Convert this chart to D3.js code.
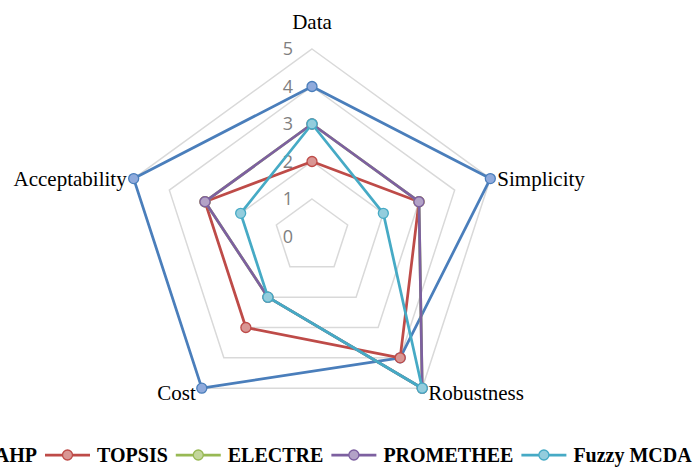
<!DOCTYPE html>
<html>
<head>
<meta charset="utf-8">
<script src="https://cdn.jsdelivr.net/npm/d3@7"></script>
<style>
  html, body { margin: 0; padding: 0; background: #fff; overflow: hidden; }
  svg { display: block; }
</style>
</head>
<body>
<svg id="chart" width="698" height="467"></svg>
<script>
// Criteria (spokes, clockwise from top)
const criteria = ["Data", "Simplicity", "Robustness", "Cost", "Acceptability"];
// Methods and their scores per criterion
const methods = ["AHP", "TOPSIS", "ELECTRE", "PROMETHEE", "Fuzzy MCDA"];
const ahp = [4, 5, 4, 5, 5];
const topsis = [2, 3, 4, 3, 3];
const electre = [3, 3, 5, 2, 3];
const promethee = [3, 3, 5, 2, 3];
const fuzzyMcda = [3, 2, 5, 2, 2];
const tickValues = [0, 1, 2, 3, 4, 5];

const seriesValues = [ahp, topsis, electre, promethee, fuzzyMcda];
const lineColors = ["#4a7ebb", "#be4b48", "#98b954", "#7d60a0", "#46aac5"];
const fillColors = ["#8faadc", "#d99694", "#c3d69b", "#b3a2c7", "#93cddd"];

const svg = d3.select("#chart");
const cx = 312, cy = 236.5;
const r = d3.scaleLinear().domain([0, 5]).range([0, 187.5]);
const angle = d3.scaleLinear().domain([0, criteria.length]).range([0, 2 * Math.PI]);

function pt(i, v) {
  const a = angle(i);
  return [cx + Math.sin(a) * r(v), cy - Math.cos(a) * r(v)];
}

// Grid pentagons
const grid = svg.append("g");
tickValues.filter(t => t > 0).forEach(t => {
  grid.append("path")
    .attr("d", d3.line()(criteria.map((c, i) => pt(i, t))) + "Z")
    .attr("fill", "none")
    .attr("stroke", "#d9d9d9")
    .attr("stroke-width", 1.5);
});

// Tick labels along the top spoke
svg.append("g").selectAll("text").data(tickValues).join("text")
  .attr("x", cx - 19)
  .attr("y", d => cy - r(d))
  .attr("dy", "0.36em")
  .attr("text-anchor", "end")
  .attr("font-family", "'Open Sans', 'Liberation Sans', sans-serif")
  .attr("font-size", 18)
  .attr("fill", "#7f7f7f")
  .text(d => d);

// Criterion labels
const labelFont = "'Liberation Serif', 'DejaVu Serif', serif";
const labelPos = [
  { dx: 0, dy: -27, anchor: "middle" },
  { dx: 7, dy: 0, anchor: "start" },
  { dx: 6, dy: 4, anchor: "start" },
  { dx: -6, dy: 4, anchor: "end" },
  { dx: -7, dy: 0, anchor: "end" }
];
svg.append("g").selectAll("text").data(criteria).join("text")
  .attr("x", (d, i) => pt(i, 5)[0] + labelPos[i].dx)
  .attr("y", (d, i) => pt(i, 5)[1] + labelPos[i].dy)
  .attr("dy", "0.35em")
  .attr("text-anchor", (d, i) => labelPos[i].anchor)
  .attr("font-family", labelFont)
  .attr("font-size", 21)
  .attr("fill", "#000")
  .text(d => d);

// Series polygons with markers
const series = svg.append("g");
seriesValues.forEach((vals, s) => {
  const pts = vals.map((v, i) => pt(i, v));
  series.append("path")
    .attr("d", d3.line()(pts) + "Z")
    .attr("fill", "none")
    .attr("stroke", lineColors[s])
    .attr("stroke-width", 2.75)
    .attr("stroke-linejoin", "round");
  series.append("g").selectAll("circle").data(pts).join("circle")
    .attr("cx", d => d[0])
    .attr("cy", d => d[1])
    .attr("r", 5)
    .attr("fill", fillColors[s])
    .attr("stroke", lineColors[s])
    .attr("stroke-width", 1.3);
});

// Legend (runs off the left edge like the original layout)
const legend = svg.append("g");
const ly = 455;
const items = methods.map((m, s) => {
  const g = legend.append("g");
  const t = g.append("text")
    .attr("y", ly)
    .attr("dy", "0.35em")
    .attr("font-family", labelFont)
    .attr("font-weight", "bold")
    .attr("font-size", 20)
    .attr("fill", "#000")
    .text(m);
  return { g, t, w: t.node().getComputedTextLength(), s };
});
const lineLen = 45, gapA = 7, gapB = 8;
let x = 45 - (lineLen + gapA + items[0].w + gapB);
items.forEach(it => {
  it.g.insert("line", "text")
    .attr("x1", x).attr("x2", x + lineLen)
    .attr("y1", ly).attr("y2", ly)
    .attr("stroke", lineColors[it.s]).attr("stroke-width", 2.75);
  it.g.append("circle")
    .attr("cx", x + lineLen / 2).attr("cy", ly).attr("r", 5)
    .attr("fill", fillColors[it.s]).attr("stroke", lineColors[it.s]).attr("stroke-width", 1.3);
  it.t.attr("x", x + lineLen + gapA);
  x += lineLen + gapA + it.w + gapB;
});
</script>
</body>
</html>
